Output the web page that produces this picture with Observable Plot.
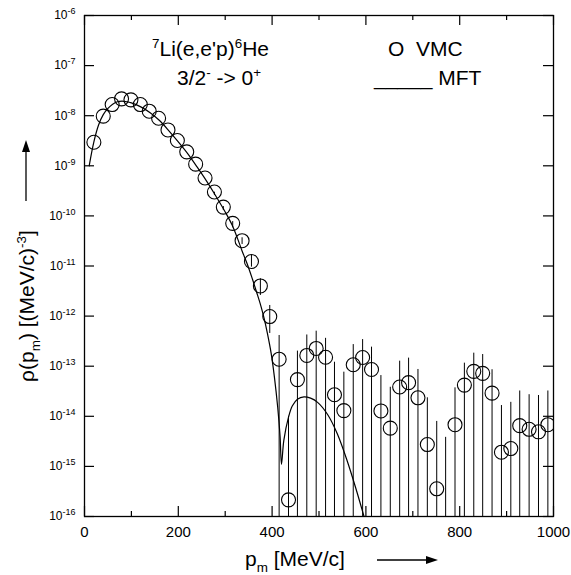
<!DOCTYPE html>
<html><head><meta charset="utf-8">
<script src="https://cdn.jsdelivr.net/npm/d3@7"></script>
<script src="https://cdn.jsdelivr.net/npm/@observablehq/plot@0.6"></script>
<style>
body{margin:0;background:#fff}
svg{font-family:"Liberation Sans",Arial,Helvetica,sans-serif}
</style>
</head><body><div id="chart"></div>
<script>
// VMC points: missing momentum p_m [MeV/c], density, error-bar bounds
const vmcP = [20, 40, 59, 79, 99, 119, 138, 158, 178, 198, 218, 237, 257, 277, 296, 316, 336, 356, 375, 395,
  415, 435, 454, 474, 494, 514, 533, 553, 573, 593, 612, 632, 652, 672, 691, 711, 731, 751, 770, 790,
  810, 830, 849, 869, 889, 909, 928, 948, 968, 988];
const vmcRho = [2.95e-9, 9.8e-9, 1.67e-8, 2.17e-8, 2.07e-8, 1.67e-8, 1.23e-8, 8.9e-9, 5.2e-9, 3.2e-9,
  1.9e-9, 1.08e-9, 5.7e-10, 3.0e-10, 1.5e-10, 7.1e-11, 3.2e-11, 1.23e-11, 4.0e-12, 9.8e-13,
  1.38e-13, 2.15e-16, 5.4e-14, 1.64e-13, 2.26e-13, 1.51e-13, 2.69e-14, 1.3e-14, 1.07e-13, 1.49e-13,
  8.6e-14, 1.28e-14, 5.8e-15, 3.85e-14, 4.7e-14, 2.34e-14, 2.73e-15, 3.57e-16, null, 6.8e-15,
  4.2e-14, 7.9e-14, 7.2e-14, 2.9e-14, 1.92e-15, 2.27e-15, 6.5e-15, 5.5e-15, 4.9e-15, 6.8e-15];
const vmcLo = [null, null, null, null, null, null, null, null, null, null,
  null, null, null, 2.55e-10, 1.28e-10, 5.8e-11, 2.69e-11, 9.5e-12, 2.58e-12, 4.5e-13,
  1e-17, 1e-17, 1e-17, 1e-17, 1e-17, 1e-17, 1e-17, 1e-17, 1e-17, 1e-17,
  1e-17, 1e-17, 1e-17, 1e-17, 1e-17, 1e-17, 1e-17, 1e-17, 1e-17, 1e-17,
  1e-17, 1e-17, 1e-17, 1e-17, 1e-17, 1e-17, 1e-17, 1e-17, 1e-17, 1e-17];
const vmcHi = [null, null, null, null, null, null, null, null, null, null,
  null, null, null, 2.97e-10, 1.54e-10, 7.7e-11, 3.66e-11, 1.62e-11, 5.56e-12, 1.63e-12,
  4.1e-13, 1.0e-14, 2.0e-13, 4.2e-13, 5.0e-13, 3.6e-13, 1.2e-13, 7.6e-14, 2.7e-13, 3.4e-13,
  2.4e-13, 6.5e-14, 3.8e-14, 1.26e-13, 1.45e-13, 8.6e-14, 2.34e-14, 7.9e-15, 3.8e-15, 3.7e-14,
  1.15e-13, 1.82e-13, 1.71e-13, 8.5e-14, 1.64e-14, 1.9e-14, 3.2e-14, 2.7e-14, 2.6e-14, 3.2e-14];

// MFT curve
const mftP = [10, 20, 30, 40, 50, 60, 70, 80, 90, 100, 120, 140, 160, 180, 200, 220, 240, 260, 280, 300,
  315, 326, 336, 347, 358, 367, 376, 383, 390, 398, 405, 412, 417, 420, 425, 435, 443, 454, 468, 482,
  497, 518, 539, 560, 578, 596, 605];
const mftRho = [1.0e-9, 3.0e-9, 6.5e-9, 1.05e-8, 1.4e-8, 1.7e-8, 1.9e-8, 1.95e-8, 1.9e-8, 1.8e-8,
  1.5e-8, 1.15e-8, 8.0e-9, 5.0e-9, 3.0e-9, 1.75e-9, 9.5e-10, 5.0e-10, 2.5e-10, 1.2e-10,
  6.5e-11, 3.6e-11, 2.0e-11, 1.1e-11, 5.5e-12, 3.0e-12, 1.6e-12, 9e-13, 4.5e-13, 1.8e-13,
  6e-14, 1.5e-14, 4e-15, 1.1e-15, 3.3e-15, 9.6e-15, 1.6e-14, 2.2e-14, 2.45e-14, 2.3e-14,
  1.9e-14, 1.1e-14, 4.5e-15, 1.3e-15, 3.8e-16, 1.0e-16, 5e-17];

// Axis ticks and labels
const xMajorTicks = [0, 200, 400, 600, 800, 1000];
const xMinorTicks = [100, 300, 500, 700, 900];
const xTickLabels = ["0", "200", "400", "600", "800", "1000"];
const yTicks = [1e-16, 1e-15, 1e-14, 1e-13, 1e-12, 1e-11, 1e-10, 1e-9, 1e-8, 1e-7, 1e-6];
const yTickLabels = ["10^-16", "10^-15", "10^-14", "10^-13", "10^-12", "10^-11", "10^-10", "10^-9", "10^-8", "10^-7", "10^-6"];

const W = 571, H = 575, mL = 84, mR = 18, mT = 15, mB = 59;
const fw = W - mL - mR, fh = H - mT - mB;

const vmc = vmcP.map((p, i) => ({p, rho: vmcRho[i], lo: vmcLo[i], hi: vmcHi[i]}));
const mft = mftP.map((p, i) => ({p, rho: mftRho[i]}));

const chart = Plot.plot({
  width: W, height: H,
  marginLeft: mL, marginRight: mR, marginTop: mT, marginBottom: mB,
  style: {fontFamily: "Liberation Sans, Arial, sans-serif", background: "white", color: "black"},
  x: {domain: [0, 1000]},
  y: {type: "log", domain: [1e-16, 1e-6]},
  marks: [
    Plot.ruleX(vmc.filter(d => d.hi != null), {x: "p", y1: "lo", y2: "hi", stroke: "black", strokeWidth: 1, clip: true}),
    Plot.line(mft, {x: "p", y: "rho", stroke: "black", strokeWidth: 1.2, curve: "catmull-rom", clip: true}),
    Plot.dot(vmc.filter(d => d.rho != null), {x: "p", y: "rho", r: 7, stroke: "black", strokeWidth: 1.1, fill: "none", clip: true}),
    Plot.tickX(xMajorTicks, {x: d => d, insetTop: fh - 10, stroke: "black", strokeWidth: 1.2}),
    Plot.tickX(xMajorTicks, {x: d => d, insetBottom: fh - 10, stroke: "black", strokeWidth: 1.2}),
    Plot.tickX(xMinorTicks, {x: d => d, insetTop: fh - 5, stroke: "black", strokeWidth: 1.2}),
    Plot.tickX(xMinorTicks, {x: d => d, insetBottom: fh - 5, stroke: "black", strokeWidth: 1.2}),
    Plot.tickY(yTicks, {y: d => d, insetRight: fw - 10, stroke: "black", strokeWidth: 1.2}),
    Plot.tickY(yTicks, {y: d => d, insetLeft: fw - 10, stroke: "black", strokeWidth: 1.2}),
    Plot.axisX({ticks: xMajorTicks, tickSize: 0, tickPadding: 10, fontSize: 15, label: null,
      tickFormat: d => xTickLabels[xMajorTicks.indexOf(d)]}),
    Plot.axisY({ticks: yTicks, tickSize: 0, tickPadding: 9, fontSize: 12, label: null,
      tickFormat: d => yTickLabels[yTicks.indexOf(d)]}),
    Plot.frame({stroke: "black", strokeWidth: 1.3})
  ]
});
document.getElementById("chart").appendChild(chart);

const svg = d3.select(chart);
// superscript exponents on y tick labels
svg.selectAll('g[aria-label="y-axis tick label"] text').each(function() {
  const s = this.textContent;
  if (!s.includes("^")) return;
  const [base, exp] = s.split("^");
  this.textContent = "";
  d3.select(this).append("tspan").text(base);
  d3.select(this).append("tspan").attr("dy", -5).attr("font-size", 9).text(exp);
});

function rich(x, y, parts, size, rotate) {
  const t = svg.append("text").attr("font-size", size).attr("fill", "black")
    .attr("text-anchor", rotate ? "middle" : "start").style("white-space", "pre");
  if (rotate) t.attr("transform", `translate(${x},${y}) rotate(-90)`);
  else t.attr("x", x).attr("y", y);
  let shift = 0;
  for (const [s, k] of parts) {
    const target = k === "sup" ? -size * 0.4 : k === "sub" ? size * 0.28 : 0;
    const sp = t.append("tspan").attr("dy", target - shift).text(s);
    if (k) sp.attr("font-size", size * 0.64);
    shift = target;
  }
  return t;
}

rich(152, 56, [["7", "sup"], ["Li(e,e'p)", ""], ["6", "sup"], ["He", ""]], 21);
rich(177, 85, [["3/2", ""], ["-", "sup"], [" -> 0", ""], ["+", "sup"]], 21);
rich(388, 56, [["O  VMC", ""]], 21);
rich(374, 85, [["_____ MFT", ""]], 21);

rich(245, 566, [["p", ""], ["m", "sub"], [" [MeV/c]", ""]], 21);
rich(34, 306, [["ρ(p", ""], ["m", "sub"], [") [(MeV/c)", ""], ["-3", "sup"], ["]", ""]], 21, true);

// axis arrows
svg.append("line").attr("x1", 377).attr("x2", 428).attr("y1", 560).attr("y2", 560).attr("stroke", "black").attr("stroke-width", 1.3);
svg.append("path").attr("d", "M438,560 L426,556 L426,564 Z").attr("fill", "black");
svg.append("line").attr("x1", 26).attr("x2", 26).attr("y1", 201).attr("y2", 150).attr("stroke", "black").attr("stroke-width", 1.3);
svg.append("path").attr("d", "M26,140 L22,152 L30,152 Z").attr("fill", "black");
</script>
</body></html>
